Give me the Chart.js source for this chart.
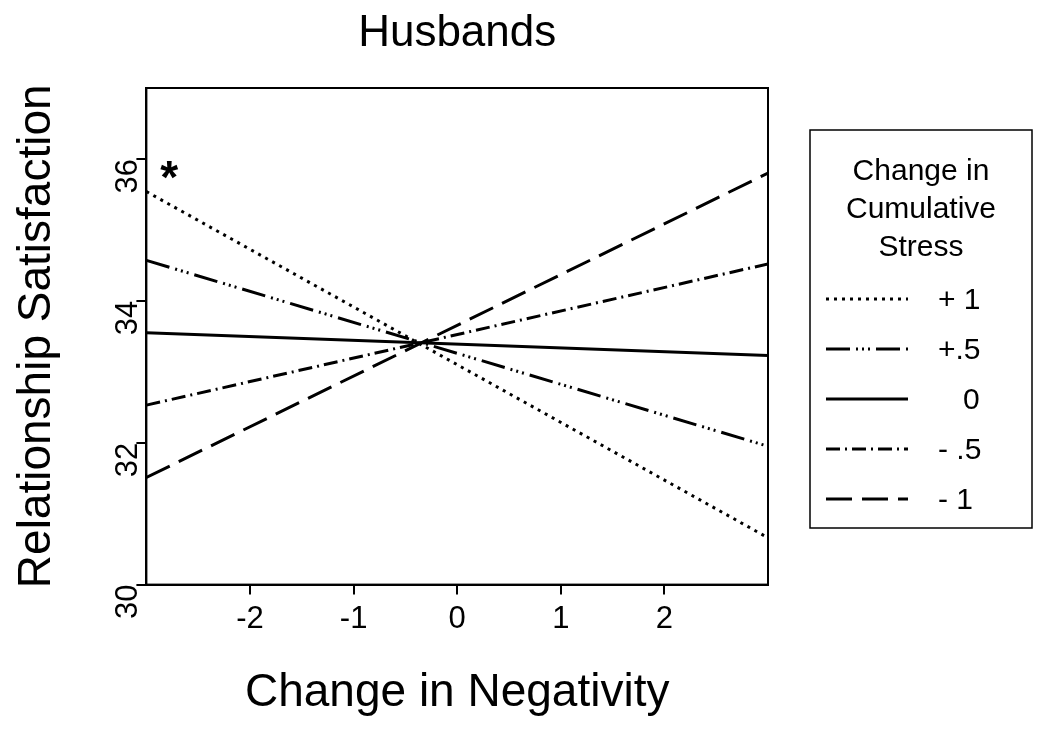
<!DOCTYPE html>
<html>
<head>
<meta charset="utf-8">
<script src="https://cdn.jsdelivr.net/npm/chart.js@4"></script>
<style>
  body { margin: 0; background: #fff; }
  #wrap { width: 1050px; height: 731px; }
</style>
</head>
<body>
<div id="wrap"><canvas id="c"></canvas></div>
<script>
// 数据
const xEnds = [-3, 3];
const seriesLabels = ['+ 1', '+.5', '0', '- .5', '- 1'];
const plus1 = [35.54, 30.66];
const plus05 = [34.57, 31.95];
const zero = [33.55, 33.23];
const minus05 = [32.53, 34.52];
const minus1 = [31.51, 35.8];
const xTicks = [-2, -1, 0, 1, 2];
const yTicks = [30, 32, 34, 36];
const starPoint = { x: -2.78, y: 35.7 };

const dashes = [[3, 5], [24, 6, 2, 4, 2, 4, 2, 6], [], [14, 5, 2, 5], [26, 10]];
const allSeries = [plus1, plus05, zero, minus05, minus1];
const FONT = 'Liberation Sans, Arial, sans-serif';

const datasets = allSeries.map((s, i) => ({
  label: seriesLabels[i],
  data: xEnds.map((x, j) => ({ x: x, y: s[j] })),
  borderColor: '#000',
  borderWidth: 3,
  borderDash: dashes[i],
  pointRadius: 0,
  fill: false
}));

// 标题、边框、图例和星号
const extras = {
  id: 'extras',
  afterDraw(chart) {
    const ctx = chart.ctx;
    const xs = chart.scales.x, ys = chart.scales.y;
    const a = chart.chartArea;
    ctx.save();
    ctx.fillStyle = '#000';
    ctx.strokeStyle = '#000';
    ctx.lineWidth = 2;
    ctx.strokeRect(a.left, a.top, a.right - a.left, a.bottom - a.top);

    ctx.textAlign = 'center';
    ctx.textBaseline = 'middle';
    ctx.font = '44px ' + FONT;
    ctx.fillText('Husbands', (a.left + a.right) / 2, 34);

    ctx.font = 'bold 46px ' + FONT;
    ctx.fillText('*', xs.getPixelForValue(starPoint.x), ys.getPixelForValue(starPoint.y));

    // legend box
    ctx.lineWidth = 1.5;
    ctx.strokeRect(810, 130, 222, 398);
    ctx.font = '30px ' + FONT;
    ['Change in', 'Cumulative', 'Stress'].forEach((t, i) => ctx.fillText(t, 921, 172 + i * 38));
    seriesLabels.forEach((t, i) => {
      const y = 299 + i * 50;
      ctx.beginPath();
      ctx.setLineDash(dashes[i]);
      ctx.lineWidth = 3;
      ctx.moveTo(826, y);
      ctx.lineTo(908, y);
      ctx.stroke();
      ctx.setLineDash([]);
      ctx.textAlign = 'left';
      ctx.fillText(t === '0' ? '   0' : t, 938, y + 2);
    });
    ctx.restore();
  }
};

new Chart(document.getElementById('c'), {
  type: 'line',
  data: { datasets: datasets },
  plugins: [extras],
  options: {
    responsive: true,
    maintainAspectRatio: false,
    animation: false,
    layout: { padding: { top: 88, right: 282, bottom: 6, left: 6 } },
    plugins: {
      legend: { display: false },
      tooltip: { enabled: false },
      title: { display: false }
    },
    scales: {
      x: {
        type: 'linear', min: -3, max: 3,
        afterBuildTicks: s => { s.ticks = xTicks.map(v => ({ value: v })); },
        border: { color: '#000', width: 2 },
        grid: { drawOnChartArea: false, color: '#000', lineWidth: 2, tickLength: 10 },
        ticks: { color: '#000', font: { family: FONT, size: 31 }, padding: 6, maxRotation: 0 },
        title: { display: true, text: 'Change in Negativity', color: '#000',
          font: { family: FONT, size: 46 }, padding: { top: 22 } }
      },
      y: {
        min: 30, max: 37,
        afterBuildTicks: s => { s.ticks = yTicks.map(v => ({ value: v })); },
        border: { color: '#000', width: 2 },
        grid: { drawOnChartArea: false, color: '#000', lineWidth: 2, tickLength: 10 },
        ticks: { color: '#000', font: { family: FONT, size: 31 }, minRotation: 90, maxRotation: 90, padding: 8 },
        title: { display: true, text: 'Relationship Satisfaction', color: '#000',
          font: { family: FONT, size: 46 }, padding: { bottom: 18 } }
      }
    }
  }
});
</script>
</body>
</html>
